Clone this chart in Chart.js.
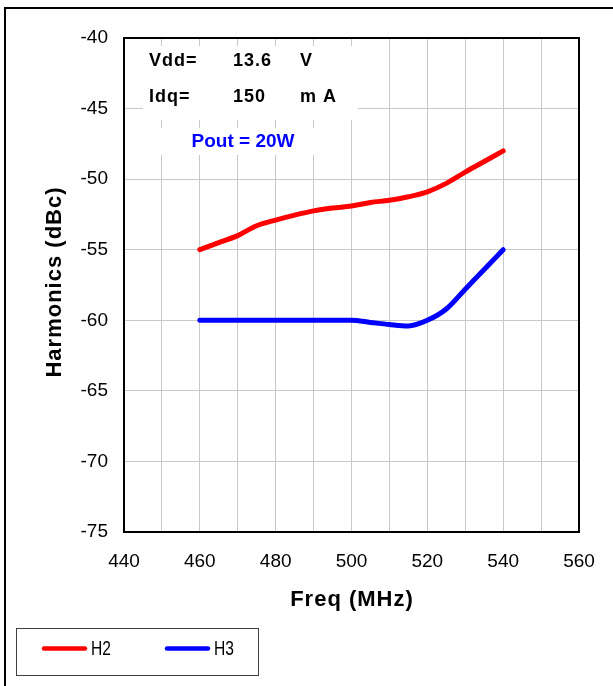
<!DOCTYPE html>
<html>
<head>
<meta charset="utf-8">
<script src="https://cdn.jsdelivr.net/npm/chart.js@4.4.1/dist/chart.umd.min.js"></script>
<style>
  html, body { margin: 0; padding: 0; background: #ffffff; }
  #wrap { width: 613px; height: 686px; position: relative; }
</style>
</head>
<body>
<div id="wrap"><canvas id="chart" width="613" height="686"></canvas></div>
<script>
// Frequency points (MHz)
const freqMHz = [460, 465, 470, 475, 480, 485, 490, 495, 500, 505, 510, 515, 520, 525, 530, 535, 540];
// Second harmonic (dBc)
const h2 = [-55.0, -54.5, -54.0, -53.3, -52.9, -52.55, -52.25, -52.05, -51.9, -51.65, -51.5, -51.25, -50.9, -50.3, -49.5, -48.75, -48.0];
// Third harmonic (dBc)
const h3 = [-60.0, -60.0, -60.0, -60.0, -60.0, -60.0, -60.0, -60.0, -60.0, -60.15, -60.3, -60.4, -60.0, -59.2, -57.8, -56.4, -55.0];
// Axis tick values
const xTickLabels = [440, 460, 480, 500, 520, 540, 560];
const yTickLabels = [-40, -45, -50, -55, -60, -65, -70, -75];
// Condition notes
const conditionRows = [["Vdd=", "13.6", "V"], ["Idq=", "150", "m A"]];
const poutNote = "Pout = 20W";
const seriesNames = ["H2", "H3"];
const seriesColors = ["#FF0000", "#0000FF"];

const FONT = "'Liberation Sans', Arial, sans-serif";

const decorPlugin = {
  id: 'decor',
  beforeDatasetsDraw(chart) {
    const ctx = chart.ctx;
    const a = chart.chartArea;
    ctx.save();
    // white panels behind the notes
    ctx.fillStyle = '#ffffff';
    ctx.fillRect(143, 46, 215, 74);
    ctx.fillRect(150, 128, 190, 27);
    // plot frame
    ctx.strokeStyle = '#000000';
    ctx.lineWidth = 2;
    ctx.strokeRect(a.left, a.top, a.right - a.left, a.bottom - a.top);
    // notes
    ctx.fillStyle = '#000000';
    ctx.font = "bold 18px " + FONT;
    ctx.letterSpacing = '1px';
    ctx.textBaseline = 'middle';
    ctx.textAlign = 'left';
    const colX = [149, 233, 300];
    const rowY = [61, 97];
    conditionRows.forEach((row, r) => {
      row.forEach((t, c) => ctx.fillText(t, colX[c], rowY[r]));
    });
    ctx.letterSpacing = '0px';
    ctx.fillStyle = '#0000FF';
    ctx.font = "bold 19px " + FONT;
    ctx.textAlign = 'center';
    ctx.fillText(poutNote, 243, 142);
    ctx.restore();
  },
  afterDraw(chart) {
    const ctx = chart.ctx;
    ctx.save();
    // outer frame (left and top edges)
    ctx.strokeStyle = '#000000';
    ctx.lineWidth = 2;
    ctx.beginPath();
    ctx.moveTo(5, 690);
    ctx.lineTo(5, 8);
    ctx.lineTo(620, 8);
    ctx.stroke();
    // axis titles
    ctx.fillStyle = '#000000';
    ctx.font = "bold 22px " + FONT;
    ctx.letterSpacing = '1px';
    ctx.textAlign = 'center';
    ctx.textBaseline = 'middle';
    ctx.fillText("Freq (MHz)", 352, 600);
    ctx.save();
    ctx.translate(55, 282);
    ctx.rotate(-Math.PI / 2);
    ctx.fillText("Harmonics (dBc)", 0, 0);
    ctx.restore();
    ctx.letterSpacing = '0px';
    // legend
    ctx.strokeStyle = '#404040';
    ctx.lineWidth = 1;
    ctx.strokeRect(16.5, 628.5, 242, 47);
    const legX = [42, 165];
    seriesNames.forEach((name, i) => {
      ctx.strokeStyle = seriesColors[i];
      ctx.lineWidth = 4.5;
      ctx.lineCap = 'round';
      ctx.beginPath();
      ctx.moveTo(legX[i] + 2, 648.5);
      ctx.lineTo(legX[i] + 43, 648.5);
      ctx.stroke();
      ctx.save();
      ctx.translate(legX[i] + 49, 649);
      ctx.scale(0.78, 1);
      ctx.fillStyle = '#000000';
      ctx.font = "20px " + FONT;
      ctx.textAlign = 'left';
      ctx.textBaseline = 'middle';
      ctx.fillText(name, 0, 0);
      ctx.restore();
    });
    ctx.restore();
  }
};

new Chart(document.getElementById('chart'), {
  type: 'line',
  data: {
    datasets: [
      { label: seriesNames[0], data: freqMHz.map((f, i) => ({ x: f, y: h2[i] })),
        borderColor: seriesColors[0], borderWidth: 5, pointRadius: 0, cubicInterpolationMode: 'monotone', borderCapStyle: 'round' },
      { label: seriesNames[1], data: freqMHz.map((f, i) => ({ x: f, y: h3[i] })),
        borderColor: seriesColors[1], borderWidth: 5, pointRadius: 0, cubicInterpolationMode: 'monotone', borderCapStyle: 'round' }
    ]
  },
  options: {
    responsive: false,
    animation: false,
    layout: { padding: { left: 0, top: 38, right: 34, bottom: 114 } },
    plugins: { legend: { display: false }, tooltip: { enabled: false } },
    scales: {
      x: {
        type: 'linear',
        min: xTickLabels[0], max: xTickLabels[xTickLabels.length - 1],
        afterFit: s => { s.height = 40; },
        grid: { color: '#C8C8C8', lineWidth: 1, drawTicks: false },
        border: { display: false },
        ticks: {
          stepSize: 10, padding: 18, color: '#000000',
          font: { family: FONT, size: 19 },
          callback: v => xTickLabels.includes(v) ? String(v) : ''
        }
      },
      y: {
        min: yTickLabels[yTickLabels.length - 1], max: yTickLabels[0],
        afterFit: s => { s.width = 124; },
        grid: { color: '#C8C8C8', lineWidth: 1, drawTicks: false },
        border: { display: false },
        ticks: {
          stepSize: 5, padding: 16, color: '#000000',
          font: { family: FONT, size: 19 },
          callback: v => yTickLabels.includes(v) ? String(v) : ''
        }
      }
    }
  },
  plugins: [decorPlugin]
});
</script>
</body>
</html>
